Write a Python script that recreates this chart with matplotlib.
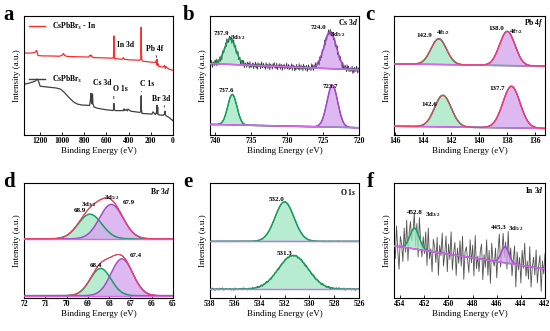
import numpy as np
import matplotlib.pyplot as plt
from matplotlib.lines import Line2D

plt.rcParams['font.family'] = 'Liberation Serif'
plt.rcParams['font.weight'] = 'bold'
plt.rcParams['mathtext.fontset'] = 'custom'
plt.rcParams['mathtext.rm'] = 'Liberation Serif:bold'
plt.rcParams['mathtext.it'] = 'Liberation Serif:italic:bold'
plt.rcParams['mathtext.bf'] = 'Liberation Serif:bold'
plt.rcParams['axes.linewidth'] = 0.8

GREEN_FILL = '#a6e8c6'
GREEN_EDGE = '#13a05f'
PURPLE_FILL = '#d6a6ee'
PURPLE_EDGE = '#a447c8'
BASE_COL = '#d867ee'
FIT_COL = '#ff3a5c'
DATA_COL = '#3a3a3a'

# ---- panel a: survey spectra (energy eV, relative intensity)
red_e = [1340, 1300, 1260, 1235, 1228, 1222, 1215, 1180, 1100, 1020,
         995, 985, 975, 950, 880, 800, 760, 745, 740, 735,
         728, 722, 715, 690, 620, 560, 540, 535, 532, 529,
         525, 500, 460, 445, 440, 400, 340, 300, 290, 286,
         284, 280, 270, 230, 190, 160, 150, 146, 143, 139,
         136, 130, 120, 90, 75, 70, 65, 40, 20, 0]
red_i = [0.690, 0.688, 0.690, 0.698, 0.712, 0.700, 0.668, 0.665, 0.664, 0.662,
         0.672, 0.686, 0.668, 0.660, 0.658, 0.656, 0.655, 0.672, 0.662, 0.670,
         0.660, 0.652, 0.650, 0.650, 0.648, 0.646, 0.645, 0.660, 0.833, 0.680,
         0.642, 0.640, 0.636, 0.650, 0.636, 0.632, 0.630, 0.628, 0.640, 0.906,
         0.700, 0.626, 0.620, 0.616, 0.612, 0.610, 0.625, 0.590, 0.636, 0.585,
         0.600, 0.578, 0.575, 0.570, 0.585, 0.560, 0.575, 0.555, 0.548, 0.544]
blk_e = [1340, 1300, 1260, 1235, 1225, 1215, 1205, 1195, 1150, 1100,
         1050, 1010, 980, 950, 920, 890, 860, 820, 780, 750,
         742, 738, 734, 728, 724, 720, 710, 680, 640, 600,
         560, 540, 535, 532, 529, 520, 480, 445, 440, 435,
         420, 410, 405, 380, 340, 300, 290, 286, 284, 280,
         260, 220, 190, 180, 160, 148, 144, 141, 138, 135,
         130, 110, 90, 78, 72, 68, 60, 40, 20, 0]
blk_i = [0.425, 0.435, 0.445, 0.455, 0.470, 0.462, 0.440, 0.410, 0.405, 0.400,
         0.395, 0.385, 0.360, 0.330, 0.300, 0.275, 0.260, 0.252, 0.250, 0.248,
         0.300, 0.350, 0.280, 0.262, 0.345, 0.262, 0.235, 0.225, 0.218, 0.212,
         0.208, 0.205, 0.215, 0.265, 0.215, 0.205, 0.205, 0.205, 0.220, 0.205,
         0.215, 0.202, 0.218, 0.200, 0.195, 0.190, 0.195, 0.330, 0.220, 0.182,
         0.180, 0.178, 0.175, 0.195, 0.172, 0.190, 0.250, 0.180, 0.235, 0.175,
         0.170, 0.168, 0.165, 0.175, 0.200, 0.170, 0.160, 0.150, 0.135, 0.120]

# ---- fitted peaks: (centre eV, height, FWHM) ; baselines (left, right)
cs_top_peaks = [(737.9, 0.22, 1.8), (724.0, 0.31, 2.0)]
cs_bot_peaks = [(737.6, 0.256, 1.5), (723.7, 0.354, 1.75)]
cs_top_base = (0.600, 0.547)
cs_bot_base = (0.089, 0.061)

pb_top_peaks = [(142.9, 0.217, 1.3), (138.0, 0.288, 1.3)]
pb_bot_peaks = [(142.6, 0.266, 1.4), (137.7, 0.350, 1.45)]
pb_top_base = (0.598, 0.578)
pb_bot_base = (0.074, 0.055)

br_top_peaks = [(68.9, 0.215, 1.3), (67.9, 0.300, 1.3)]
br_bot_peaks = [(68.4, 0.237, 1.15), (67.4, 0.320, 1.2)]
br_top_base = (0.514, 0.514)
br_bot_base = (0.020, 0.020)

o_top_peaks = [(532.0, 0.343, 1.8)]
o_bot_peaks = [(531.3, 0.293, 2.8)]
o_top_base = (0.493, 0.493)
o_bot_base = (0.077, 0.077)

in_peaks = [(452.8, 0.18, 0.9), (445.3, 0.14, 0.75)]
in_base = (0.454, 0.252)

# hand-read jitter of the raw traces (relative units)
noise = [0.3, -0.5, 0.8, -0.2, -0.9, 0.4, 0.1, -0.6, 0.7, -0.3,
         0.9, -0.8, 0.2, 0.5, -0.4, -0.1, 0.6, -0.7, 0.3, -0.9,
         0.8, 0.0, -0.5, 0.4, -0.2, 0.7, -0.6, 0.9, -0.3, 0.1,
         -0.8, 0.5, 0.2, -0.4, 0.6, -0.9, 0.3, -0.1, 0.8, -0.5,
         0.0, 0.7, -0.7, 0.4, -0.2, 0.9, -0.6, 0.1, 0.5, -0.8,
         0.3, -0.3, 0.6, -0.4, 0.8, -0.9, 0.2, 0.4, -0.1, -0.6,
         0.7, -0.2, 0.5, -0.7, 0.9, -0.4, 0.1, -0.5, 0.3, 0.6,
         -0.8, 0.2, -0.3, 0.8, -0.6, 0.4, -0.9, 0.7, 0.0, -0.2,
         0.5, -0.7, 0.3, 0.9, -0.5, -0.1, 0.6, -0.4, 0.2, -0.8,
         0.8, -0.3, 0.4, -0.6, 0.1, 0.7, -0.9, 0.5, -0.2, 0.3,
         -0.7, 0.6, -0.1, 0.9, -0.4, 0.2, -0.5, 0.8, -0.8, 0.0,
         0.4, -0.3, 0.7, -0.6, 0.1, 0.5, -0.9, 0.3, -0.2, 0.6]
noise = np.array(noise)
noise_long = np.concatenate([noise, -noise[::-1]])


def gauss(x, c, h, fwhm):
    s = fwhm / 2.3548
    return h * np.exp(-0.5 * ((x - c) / s) ** 2)


def draw_fit(ax, xlim, base, peaks, cols, amp, jitter=noise, fit=True,
             data_under=False):
    x = np.linspace(xlim[0], xlim[1], 300)
    b = np.linspace(base[0], base[1], 300)
    total = b.copy()
    for (c, h, w), (fc, ec) in zip(peaks, cols):
        g = gauss(x, c, h, w)
        ax.fill_between(x, b, b + g, color=fc, alpha=0.8, lw=0, zorder=2)
        ax.plot(x, b + g, color=ec, lw=1.1, zorder=3)
        total = total + g
    ax.plot(x, b, color=BASE_COL, lw=1.0, zorder=3)
    # raw data trace
    xd = np.linspace(xlim[0], xlim[1], len(jitter))
    bd = np.linspace(base[0], base[1], len(jitter))
    yd = bd + sum(gauss(xd, c, h, w) for c, h, w in peaks) + amp * jitter
    ax.plot(xd, yd, color=DATA_COL if not data_under else '#505050',
            lw=0.6, zorder=1 if data_under else 2.5)
    if fit:
        ax.plot(x, total, color=FIT_COL, lw=0.8, zorder=4)


def setup(ax, xlim, ticks, letter, lx, ly):
    ax.set_xlim(*xlim)
    ax.set_ylim(0, 1)
    ax.set_xticks(ticks)
    ax.set_yticks([])
    ax.tick_params(axis='x', labelsize=5.5, direction='in', length=2,
                   width=0.6, pad=1.5)
    ax.set_xlabel('Binding Energy (eV)', fontsize=6.5, labelpad=1.5)
    ax.set_ylabel('Intensity (a.u.)', fontsize=6.5, labelpad=2)
    fig.text(lx, ly, letter, fontsize=15, fontweight='bold')


def label(ax, x, y, s, size=5):
    ax.text(x, y, s, fontsize=size, ha='center', va='center', zorder=5)


fig = plt.figure(figsize=(5.5, 3.31), dpi=100)
W, H = 550, 331


def box(l, t, r, b):
    return [l / W, 1 - b / H, (r - l) / W, (b - t) / H]


ax_a = fig.add_axes(box(24, 16, 173, 135))
ax_b = fig.add_axes(box(210, 16, 359, 135))
ax_c = fig.add_axes(box(394, 16, 545, 135))
ax_d = fig.add_axes(box(24, 183, 173, 298))
ax_e = fig.add_axes(box(210, 183, 359, 298))
ax_f = fig.add_axes(box(394, 183, 545, 298))

GREEN = (GREEN_FILL, GREEN_EDGE)
PURPLE = (PURPLE_FILL, PURPLE_EDGE)

# a
ax_a.plot(red_e, red_i, color='#ff2a2a', lw=0.9)
ax_a.plot(blk_e, blk_i, color='#404040', lw=0.9)
setup(ax_a, (1340, 0), [1200, 1000, 800, 600, 400, 200, 0], 'a', 0.006, 0.94)
leg1 = ax_a.legend([Line2D([], [], color='#ff2a2a', lw=1)], ['CsPbBr$_3$ - In'],
                   loc='upper left', bbox_to_anchor=(0.0, 1.0), frameon=False,
                   fontsize=5.5, handlelength=2.2, borderaxespad=0.2)
ax_a.add_artist(leg1)
ax_a.legend([Line2D([], [], color='#404040', lw=1)], ['CsPbBr$_3$'],
            loc='upper left', bbox_to_anchor=(0.0, 0.55), frameon=False,
            fontsize=5.5, handlelength=2.2, borderaxespad=0.2)
label(ax_a, 430, 0.76, 'In 3d', 5.5)
label(ax_a, 165, 0.72, 'Pb 4f', 5.5)
label(ax_a, 640, 0.44, 'Cs 3d', 5.5)
label(ax_a, 474, 0.385, 'O 1s', 5.5)
label(ax_a, 235, 0.425, 'C 1s', 5.5)
label(ax_a, 110, 0.30, 'Br 3d', 5.5)
for x0, x1, y0, y1 in [(160, 140, 0.69, 0.63), (532, 532, 0.35, 0.28),
                       (285, 285, 0.39, 0.34), (78, 78, 0.27, 0.21)]:
    ax_a.annotate('', xy=(x1, y1), xytext=(x0, y0),
                  arrowprops=dict(arrowstyle='-', color='#222222', lw=0.6))

# b
xb = (740.7, 720)
draw_fit(ax_b, xb, cs_top_base, cs_top_peaks, [GREEN, PURPLE], 0.035,
         jitter=noise_long, fit=False)
draw_fit(ax_b, xb, cs_bot_base, cs_bot_peaks, [GREEN, PURPLE], 0.004,
         jitter=noise[::-1], fit=False)
setup(ax_b, xb, [740, 735, 730, 725, 720], 'b', 0.333, 0.94)
label(ax_b, 739.1, 0.853, '737.9')
label(ax_b, 736.8, 0.82, '3d$_{3/2}$')
label(ax_b, 725.6, 0.90, '724.0')
label(ax_b, 723.0, 0.84, '3d$_{5/2}$')
label(ax_b, 721.5, 0.95, 'Cs $\\mathit{3d}$', 5.5)
label(ax_b, 738.45, 0.372, '737.6')
label(ax_b, 724.0, 0.408, '723.7')

# c
xc = (146.1, 135.3)
draw_fit(ax_c, xc, pb_top_base, pb_top_peaks, [GREEN, PURPLE], 0.004)
draw_fit(ax_c, xc, pb_bot_base, pb_bot_peaks, [GREEN, PURPLE], 0.004,
         jitter=noise[::-1])
setup(ax_c, xc, [146, 144, 142, 140, 138, 136], 'c', 0.664, 0.94)
label(ax_c, 143.96, 0.832, '142.9')
label(ax_c, 142.6, 0.86, '4f$_{5/2}$')
label(ax_c, 138.8, 0.895, '138.0')
label(ax_c, 137.4, 0.873, '4f$_{7/2}$')
label(ax_c, 136.1, 0.937, 'Pb $\\mathit{4f}$', 5.5)
label(ax_c, 143.55, 0.253, '142.6')
label(ax_c, 138.7, 0.394, '137.7')

# d
xdl = (72, 65)
draw_fit(ax_d, xdl, br_top_base, br_top_peaks, [GREEN, PURPLE], 0.003)
draw_fit(ax_d, xdl, br_bot_base, br_bot_peaks, [GREEN, PURPLE], 0.003,
         jitter=noise[::-1])
setup(ax_d, xdl, [72, 71, 70, 69, 68, 67, 66, 65], 'd', 0.006, 0.436)
label(ax_d, 68.97, 0.814, '3d$_{3/2}$')
label(ax_d, 69.36, 0.757, '68.9')
label(ax_d, 67.87, 0.871, '3d$_{5/2}$')
label(ax_d, 67.09, 0.829, '67.9')
label(ax_d, 65.6, 0.93, 'Br $\\mathit{3d}$', 5.5)
label(ax_d, 68.6, 0.28, '68.4')
label(ax_d, 66.77, 0.37, '67.4')

# e
xe = (538, 526)
draw_fit(ax_e, xe, o_top_base, o_top_peaks, [GREEN], 0.002, fit=False)
ax_e.plot(xe, o_top_base, color='#2a4fd0', lw=0.8)
draw_fit(ax_e, xe, o_bot_base, o_bot_peaks, [GREEN], 0.012, fit=False)
setup(ax_e, xe, [538, 536, 534, 532, 530, 528, 526], 'e', 0.333, 0.436)
label(ax_e, 532.6, 0.857, '532.0')
label(ax_e, 532.0, 0.389, '531.3')
label(ax_e, 526.9, 0.918, 'O $\\mathit{1s}$', 5.5)

# f
xf = (454.5, 442)
draw_fit(ax_f, xf, in_base, in_peaks, [GREEN, PURPLE], 0.22,
         jitter=noise, fit=False, data_under=True)
setup(ax_f, xf, [454, 452, 450, 448, 446, 444, 442], 'f', 0.667, 0.436)
label(ax_f, 452.8, 0.74, '452.8')
label(ax_f, 451.3, 0.73, '3d$_{3/2}$')
label(ax_f, 445.85, 0.61, '445.3')
label(ax_f, 444.45, 0.60, '3d$_{5/2}$')
label(ax_f, 442.9, 0.94, 'In $\\mathit{3d}$', 5.5)

fig.savefig('out.png', dpi=100)
